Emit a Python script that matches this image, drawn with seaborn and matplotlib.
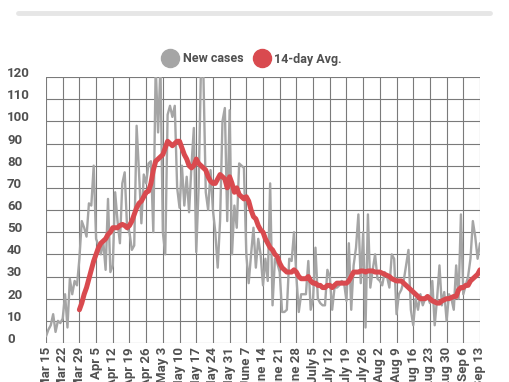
import pandas as pd
import numpy as np
import matplotlib.pyplot as plt
import matplotlib.transforms as mtransforms
from matplotlib.lines import Line2D
import seaborn as sns

# ---------------------------
# Data
# ---------------------------
start_date = "2020-03-15"

# daily new cases, Mar 15 - Sep 13
new_cases = [
    3, 6, 8, 13, 5, 10, 9,
    11, 22, 7, 29, 22, 28, 26,
    38, 55, 52, 48, 63, 62, 80,
    47, 44, 40, 46, 33, 65, 32,
    35, 68, 55, 45, 72, 77, 52,
    50, 42, 44, 98, 77, 54, 76,
    72, 81, 82, 50, 125, 95, 125,
    50, 40, 103, 107, 102, 107, 70,
    61, 80, 62, 75, 59, 80, 97,
    41, 70, 125, 122, 68, 60, 78,
    60, 50, 34, 55, 100, 106, 55,
    105, 40, 62, 52, 81, 80, 79,
    40, 27, 40, 52, 34, 47, 40,
    26, 38, 28, 72, 17, 38, 36,
    32, 14, 14, 15, 38, 37, 50,
    30, 14, 22, 22, 22, 37, 15,
    20, 43, 20, 18, 17, 17, 33,
    30, 15, 25, 25, 26, 28, 27,
    19, 45, 15, 35, 43, 58, 27,
    50, 7, 58, 25, 33, 40, 29,
    28, 26, 32, 30, 25, 40, 38,
    13, 22, 24, 28, 35, 42, 15,
    8, 20, 15, 22, 17, 20, 21,
    18, 28, 8, 20, 35, 17, 23,
    10, 22, 20, 15, 35, 20, 58,
    22, 26, 30, 38, 55, 48, 38,
    45,
]

# 14-day average, Mar 29 - Sep 13
avg_14 = [
    15, 18, 22, 25, 29, 33, 37,
    40, 43, 45, 46, 47, 49, 50,
    52, 52, 52, 53, 53.5, 53, 52,
    53, 55, 58, 61, 63, 64, 66,
    68, 68.5, 72, 78, 82, 83, 84,
    85, 88, 91, 90, 89, 90, 91,
    91, 88, 85, 83, 80, 79, 80,
    83, 81, 80, 79, 78, 75, 73,
    72, 72, 74, 76, 75, 74, 70,
    75, 72, 68, 70, 67, 66, 65,
    66, 64, 60, 57, 56, 53, 51,
    50, 47, 45, 43, 42, 40, 39,
    36, 34, 33, 32, 32, 32, 33,
    32, 30, 29, 29, 29, 30, 28,
    27, 27, 26, 26, 25, 25, 26,
    26, 25, 26, 27, 27, 27, 27,
    27, 28, 30, 32, 32, 32, 32.5,
    32.5, 32, 32.5, 32.5, 32.5, 32, 32,
    32, 31.5, 31, 30.5, 30, 29, 28.5,
    28, 28, 28, 27, 26, 25, 24,
    23, 22, 21, 20, 20, 20, 21,
    20, 19, 18.5, 18, 18, 19, 19.5,
    20, 20, 20.5, 21, 21, 24, 25,
    25, 26, 26, 28, 29, 30, 31,
    33,
]

week_labels = [
    "Mar 15", "Mar 22", "Mar 29", "Apr 5", "Apr 12", "Apr 19", "Apr 26",
    "May 3", "May 10", "May 17", "May 24", "May 31", "June 7", "June 14",
    "June 21", "June 28", "July 5", "July 12", "July 19", "July 26",
    "Aug 2", "Aug 9", "Aug 16", "Aug 23", "Aug 30", "Sep 6", "Sep 13",
]
y_ticks = [0, 10, 20, 30, 40, 50, 60, 70, 80, 90, 100, 110, 120]

dates = pd.date_range(start_date, periods=len(new_cases), freq="D")
df = pd.DataFrame({"date": dates, "new": new_cases})
df["avg"] = np.nan
df.loc[len(new_cases) - len(avg_14):, "avg"] = avg_14

# ---------------------------
# Plot
# ---------------------------
sns.set_theme(style="white")
plt.rcParams["font.family"] = ["Roboto", "DejaVu Sans"]

fig = plt.figure(figsize=(5.1, 3.82), dpi=100)
ax = fig.add_axes([46 / 510, 39 / 382, 434 / 510, 266 / 382])

gray = "#a5a5a5"
red = "#d94a4f"
text_col = "#505050"

sns.lineplot(data=df, x="date", y="new", color=gray, linewidth=1.7, ax=ax)
sns.lineplot(data=df, x="date", y="avg", color=red, linewidth=3.6, ax=ax)

ax.set_xlim(dates[0], dates[-1])
ax.set_ylim(0, 120)
ax.set_xlabel("")
ax.set_ylabel("")

week_dates = pd.date_range(start_date, periods=len(week_labels), freq="7D")
ax.set_xticks(week_dates)
ax.set_xticklabels(week_labels, rotation=90, fontsize=9.5, color=text_col, fontweight="bold")
ax.set_yticks(y_ticks)
ax.set_yticklabels([str(v) for v in y_ticks], fontsize=9.5, color=text_col,
                   fontweight="bold", ha="left")
ax.tick_params(axis="y", length=0, pad=28)
ax.tick_params(axis="x", length=0, pad=3)

# y labels sit a bit above their gridline
offset = mtransforms.ScaledTranslation(0, 5 / 100, fig.dpi_scale_trans)
for lab in ax.get_yticklabels():
    lab.set_transform(lab.get_transform() + offset)

ax.grid(True, color="#7a7a7a", linewidth=0.8)
ax.set_axisbelow(True)
for s in ax.spines.values():
    s.set_visible(False)

# legend
handles = [
    Line2D([], [], marker="o", linestyle="", markersize=13, color=gray, label="New cases"),
    Line2D([], [], marker="o", linestyle="", markersize=13, color=red, label="14-day Avg."),
]
leg = fig.legend(handles=handles, loc="center", bbox_to_anchor=(253 / 510, 1 - 59 / 382),
                 ncol=2, frameon=False, fontsize=9, handletextpad=0.5, columnspacing=1.0,
                 handlelength=1.0)
for t in leg.get_texts():
    t.set_color(text_col)
    t.set_fontweight("bold")

# light header rule at the top
fig.add_artist(Line2D([18 / 510, 490 / 510], [1 - 13 / 382, 1 - 13 / 382],
                      color="#e6e6e6", linewidth=3.5, transform=fig.transFigure))

fig.savefig("out.png", dpi=100)
